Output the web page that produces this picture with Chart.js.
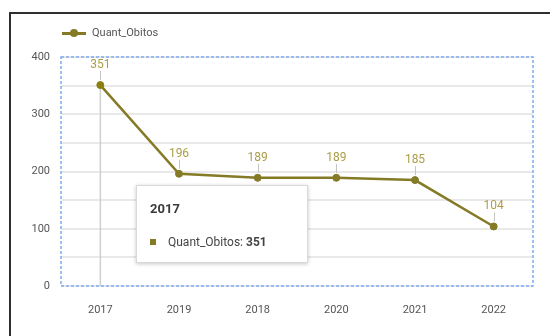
<!DOCTYPE html>
<html>
<head>
<meta charset="utf-8">
<script src="https://cdn.jsdelivr.net/npm/chart.js@4.4.1/dist/chart.umd.min.js"></script>
<style>
  html, body { margin: 0; padding: 0; background: #fff; }
  #wrap { position: relative; width: 550px; height: 336px; overflow: hidden; font-family: Roboto, "Noto Sans", sans-serif; }
  #moldura { position: absolute; left: 9px; top: 12px; width: 700px; height: 500px; border-left: 2px solid #2f2f2f; border-top: 2px solid #2f2f2f; }
  #grafico { position: absolute; left: 0; top: 0; }
  #legenda { position: absolute; left: 62px; top: 25px; height: 16px; }
  #legenda .linha { position: absolute; left: 0; top: 7px; width: 24px; height: 3px; }
  #legenda .ponto { position: absolute; left: 8px; top: 4px; width: 8px; height: 8px; border-radius: 50%; }
  #legenda .texto { position: absolute; left: 30px; top: 0; line-height: 16px; font-size: 11px; color: #555; white-space: nowrap; }
  #dica { position: absolute; display: none; box-sizing: border-box; width: 172px; height: 78px; background: #fff;
          border: 1px solid #d9d9d9; box-shadow: 0 1px 4px rgba(0,0,0,0.22); }
  #dica .titulo { position: absolute; left: 13px; top: 15px; line-height: 16px; font-size: 13px; font-weight: bold; color: #3a3a3a; }
  #dica .quad { position: absolute; left: 13px; top: 53px; width: 6px; height: 6px; }
  #dica .corpo { position: absolute; left: 31px; top: 48px; line-height: 16px; font-size: 12px; color: #444; white-space: nowrap; }
</style>
</head>
<body>
<div id="wrap">
  <div id="moldura"></div>
  <canvas id="grafico" width="550" height="336"></canvas>
  <div id="legenda"></div>
  <div id="dica"></div>
</div>
<script>
// dados do gráfico
const anos = ['2017', '2019', '2018', '2020', '2021', '2022'];
const obitos = [351, 196, 189, 189, 185, 104];
const marcasY = [0, 100, 200, 300, 400];

const COR_LINHA = '#857a26';
const COR_ROTULO = '#ab9d45';

// legenda em HTML a partir dos datasets
function montarLegenda(chart) {
    const el = document.getElementById('legenda');
    el.innerHTML = '';
    chart.data.datasets.forEach(ds => {
        el.innerHTML += '<span class="linha" style="background:' + ds.borderColor + '"></span>' +
            '<span class="ponto" style="background:' + ds.pointBackgroundColor + '"></span>' +
            '<span class="texto">' + ds.label + '</span>';
    });
}

// tooltip externo (título + linha com valor em negrito)
function desenharDica(context) {
    const tip = context.tooltip;
    const el = document.getElementById('dica');
    if (!tip || tip.opacity === 0 || !tip.dataPoints || !tip.dataPoints.length) {
        el.style.display = 'none';
        return;
    }
    const p = tip.dataPoints[0];
    el.innerHTML = '<div class="titulo">' + p.label + '</div>' +
        '<span class="quad" style="background:' + p.dataset.borderColor + '"></span>' +
        '<div class="corpo">' + p.dataset.label + ': <b>' + p.formattedValue + '</b></div>';
    el.style.left = '136px';
    el.style.top = '185px';
    el.style.display = 'block';
}

// moldura tracejada, linha vertical do ponto ativo e rótulos de valor
const extras = {
    id: 'extras',
    beforeDatasetsDraw(chart) {
        const { ctx, chartArea: a } = chart;
        ctx.save();
        const ativos = chart.getActiveElements();
        ativos.forEach(at => {
            const pt = chart.getDatasetMeta(at.datasetIndex).data[at.index];
            ctx.strokeStyle = '#cfcfcf';
            ctx.lineWidth = 1.5;
            ctx.beginPath();
            ctx.moveTo(pt.x, pt.y);
            ctx.lineTo(pt.x, a.bottom);
            ctx.stroke();
        });
        ctx.strokeStyle = '#7eaaf0';
        ctx.lineWidth = 1.5;
        ctx.setLineDash([3, 2]);
        ctx.strokeRect(a.left, a.top, a.right - a.left, a.bottom - a.top);
        ctx.restore();
    },
    afterDatasetsDraw(chart) {
        const { ctx } = chart;
        const meta = chart.getDatasetMeta(0);
        const valores = chart.data.datasets[0].data;
        ctx.save();
        meta.data.forEach((pt, i) => {
            ctx.strokeStyle = '#c4c4c4';
            ctx.lineWidth = 1;
            ctx.beginPath();
            ctx.moveTo(Math.round(pt.x) + 0.5, pt.y - 5);
            ctx.lineTo(Math.round(pt.x) + 0.5, pt.y - 14);
            ctx.stroke();
            ctx.fillStyle = COR_ROTULO;
            ctx.font = '12px Roboto, sans-serif';
            ctx.textAlign = 'center';
            ctx.textBaseline = 'middle';
            ctx.fillText(String(valores[i]), pt.x, pt.y - 20);
        });
        ctx.restore();
    }
};

const chart = new Chart(document.getElementById('grafico'), {
    type: 'line',
    data: {
        labels: anos,
        datasets: [{
            label: 'Quant_Obitos',
            data: obitos,
            borderColor: COR_LINHA,
            backgroundColor: COR_LINHA,
            pointBackgroundColor: COR_LINHA,
            pointBorderColor: COR_LINHA,
            borderWidth: 2.5,
            pointRadius: 3.5,
            pointBorderWidth: 1,
            pointHoverRadius: 3.5,
            pointHoverBorderWidth: 1,
            tension: 0
        }]
    },
    options: {
        responsive: false,
        animation: false,
        events: [],
        layout: { padding: { left: 0, top: 57, right: 17, bottom: 0 } },
        plugins: {
            legend: { display: false },
            tooltip: { enabled: false, external: desenharDica }
        },
        scales: {
            x: {
                offset: true,
                grid: { display: false },
                border: { display: false },
                ticks: { color: '#555', font: { family: 'Roboto', size: 11 }, padding: 10 },
                afterFit(s) { s.height = 50; }
            },
            y: {
                min: 0,
                max: 400,
                grid: { color: '#e9e9e9', lineWidth: 2, drawTicks: false },
                border: { display: false },
                ticks: {
                    stepSize: 50,
                    color: '#555',
                    font: { family: 'Roboto', size: 11 },
                    padding: 11,
                    callback: v => marcasY.includes(v) ? v : ''
                },
                afterFit(s) { s.width = 61; }
            }
        }
    },
    plugins: [extras]
});

montarLegenda(chart);

// ponto 2017 em destaque com a dica aberta
const pt0 = chart.getDatasetMeta(0).data[0];
chart.setActiveElements([{ datasetIndex: 0, index: 0 }]);
chart.tooltip.setActiveElements([{ datasetIndex: 0, index: 0 }], { x: pt0.x, y: pt0.y });
chart.update();
</script>
</body>
</html>
